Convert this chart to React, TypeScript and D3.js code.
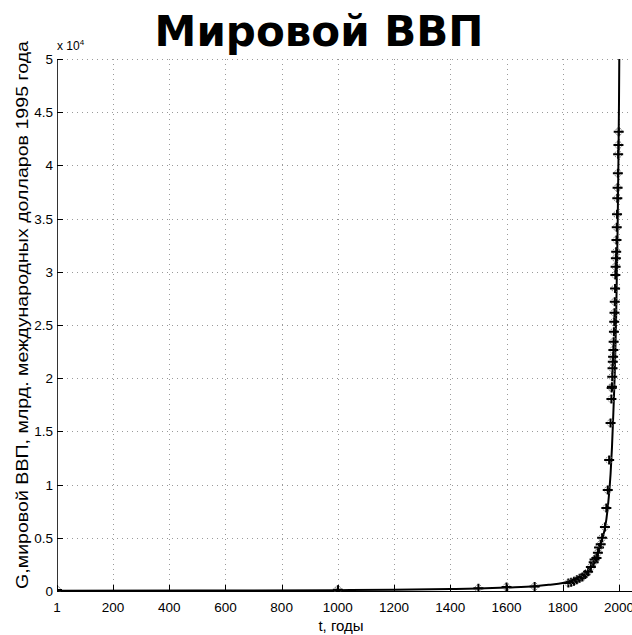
import React, { useEffect, useRef } from "react";
import * as d3 from "d3";

// observed points (year, billions of 1995 intl dollars)
const obsYears = [1, 1000, 1500, 1600, 1700, 1820, 1830, 1840, 1850, 1860, 1870, 1880, 1890, 1900, 1910, 1913, 1920, 1925, 1929, 1935, 1940, 1950, 1955, 1960, 1965, 1970,
  1973, 1974, 1975, 1976, 1977, 1978, 1979, 1980, 1981, 1982, 1983, 1984, 1985, 1986, 1987, 1988, 1989, 1990, 1991, 1992, 1993, 1994, 1995, 1996, 1997, 1998, 1999];
const obsValues = [100, 120, 250, 380, 420, 750, 820, 920, 1050, 1200, 1320, 1550, 1800, 2250, 2700, 2950, 3100, 3600, 4100, 4400, 5000, 6020, 7800, 9490, 12310, 15790,
  18050, 19080, 19200, 20140, 20930, 21550, 22020, 22650, 23430, 24370, 25310, 26160, 27190, 28440, 29700, 30480, 31270, 31890, 32990, 34180, 35400, 36910, 37900, 39260, 41040, 41920, 43170];

// model curve
const curveYears = [1, 500, 1000, 1200, 1400, 1500, 1600, 1700, 1750, 1800, 1850, 1880, 1900, 1920, 1940, 1950, 1960, 1970, 1975, 1980, 1985, 1990, 1995, 1998, 2000, 2001];
const curveValues = [20, 40, 80, 110, 180, 230, 330, 450, 580, 750, 1150, 1600, 2200, 3200, 4900, 5900, 7800, 11000, 13500, 16800, 20500, 26000, 34000, 40500, 46000, 50000];

const xTicks = [1, 200, 400, 600, 800, 1000, 1200, 1400, 1600, 1800, 2000];
const yTicks = [0, 5000, 10000, 15000, 20000, 25000, 30000, 35000, 40000, 45000, 50000];
const yTickLabels = ["0", "0.5", "1", "1.5", "2", "2.5", "3", "3.5", "4", "4.5", "5"];

const W = 632;
const H = 635;

const App: React.FC = () => {
  const svgRef = useRef<SVGSVGElement | null>(null);

  useEffect(() => {
    if (!svgRef.current) return;
    const svg = d3.select(svgRef.current);
    svg.selectAll("*").remove();

    const x = d3.scaleLinear().domain([1, 2000]).range([57, 619]);
    const y = d3.scaleLinear().domain([0, 50000]).range([591, 59]);
    const right = W;

    svg.append("rect").attr("width", W).attr("height", H).attr("fill", "#fff");

    svg.append("defs").append("clipPath").attr("id", "plot")
      .append("rect").attr("x", 57).attr("y", 58).attr("width", right - 57).attr("height", 534);

    const font = "Liberation Sans, Arial, sans-serif";

    // grid
    const grid = svg.append("g").attr("stroke", "#9a9a9a").attr("stroke-width", 1).attr("stroke-dasharray", "1,4");
    xTicks.slice(1).forEach((t) => {
      grid.append("line").attr("x1", Math.round(x(t)) + 0.5).attr("x2", Math.round(x(t)) + 0.5).attr("y1", 59).attr("y2", 591);
    });
    yTicks.slice(1).forEach((t) => {
      grid.append("line").attr("x1", 57).attr("x2", right).attr("y1", Math.round(y(t)) + 0.5).attr("y2", Math.round(y(t)) + 0.5);
    });

    // axes
    svg.append("line").attr("x1", 57.5).attr("x2", 57.5).attr("y1", 59).attr("y2", 591).attr("stroke", "#333");
    svg.append("line").attr("x1", 57).attr("x2", right).attr("y1", 591.5).attr("y2", 591.5).attr("stroke", "#000");

    xTicks.forEach((t) => {
      const px = Math.round(x(t)) + 0.5;
      svg.append("line").attr("x1", px).attr("x2", px).attr("y1", 591).attr("y2", 585).attr("stroke", "#000");
      svg.append("text").attr("x", x(t)).attr("y", 612).attr("text-anchor", "middle")
        .attr("font-family", font).attr("font-size", 13.5).text(String(t));
    });
    yTicks.forEach((t, i) => {
      const py = Math.round(y(t)) + 0.5;
      svg.append("line").attr("x1", 57).attr("x2", 63).attr("y1", py).attr("y2", py).attr("stroke", "#000");
      svg.append("text").attr("x", 53).attr("y", y(t) + 5).attr("text-anchor", "end")
        .attr("font-family", font).attr("font-size", 13.5).text(yTickLabels[i]);
    });

    // exponent label
    const ex = svg.append("text").attr("x", 57).attr("y", 50).attr("font-family", font).attr("font-size", 12);
    ex.append("tspan").text("x 10");
    ex.append("tspan").attr("dy", -5).attr("font-size", 8).text("4");

    // curve
    const pts = curveYears.map((t, i) => [t, curveValues[i]] as [number, number]);
    const line = d3.line<[number, number]>().x((d) => x(d[0])).y((d) => y(d[1])).curve(d3.curveMonotoneX);
    svg.append("path").datum(pts).attr("d", line).attr("fill", "none").attr("stroke", "#000")
      .attr("stroke-width", 2).attr("clip-path", "url(#plot)");

    // markers
    const mk = svg.append("g").attr("clip-path", "url(#plot)");
    obsYears.forEach((t, i) => {
      const px = x(t);
      const py = y(obsValues[i]);
      mk.append("circle").attr("cx", px).attr("cy", py).attr("r", 3.5).attr("fill", "none")
        .attr("stroke", "#666").attr("stroke-width", 1).attr("stroke-dasharray", "1.5,1");
      mk.append("path").attr("d", `M${px - 5},${py}H${px + 5}M${px},${py - 4.5}V${py + 4.5}`)
        .attr("stroke", "#000").attr("stroke-width", 2);
    });

    // labels
    svg.append("text").attr("x", 319).attr("y", 46).attr("text-anchor", "middle")
      .attr("font-family", "DejaVu Sans, Verdana, sans-serif").attr("font-weight", "bold").attr("font-size", 42)
      .text("Мировой ВВП");
    svg.append("text").attr("x", 341).attr("y", 631).attr("text-anchor", "middle")
      .attr("font-family", font).attr("font-size", 15).text("t, годы");
    svg.append("text").attr("transform", `translate(28,315) rotate(-90)`).attr("text-anchor", "middle")
      .attr("font-family", font).attr("font-size", 16.5)
      .attr("textLength", 548).attr("lengthAdjust", "spacingAndGlyphs")
      .text("G,мировой ВВП, млрд. международных долларов 1995 года");
  }, []);

  return (
    <svg ref={svgRef} width={W} height={H} style={{ position: "absolute", left: 0, top: 0 }} />
  );
};

export default App;
